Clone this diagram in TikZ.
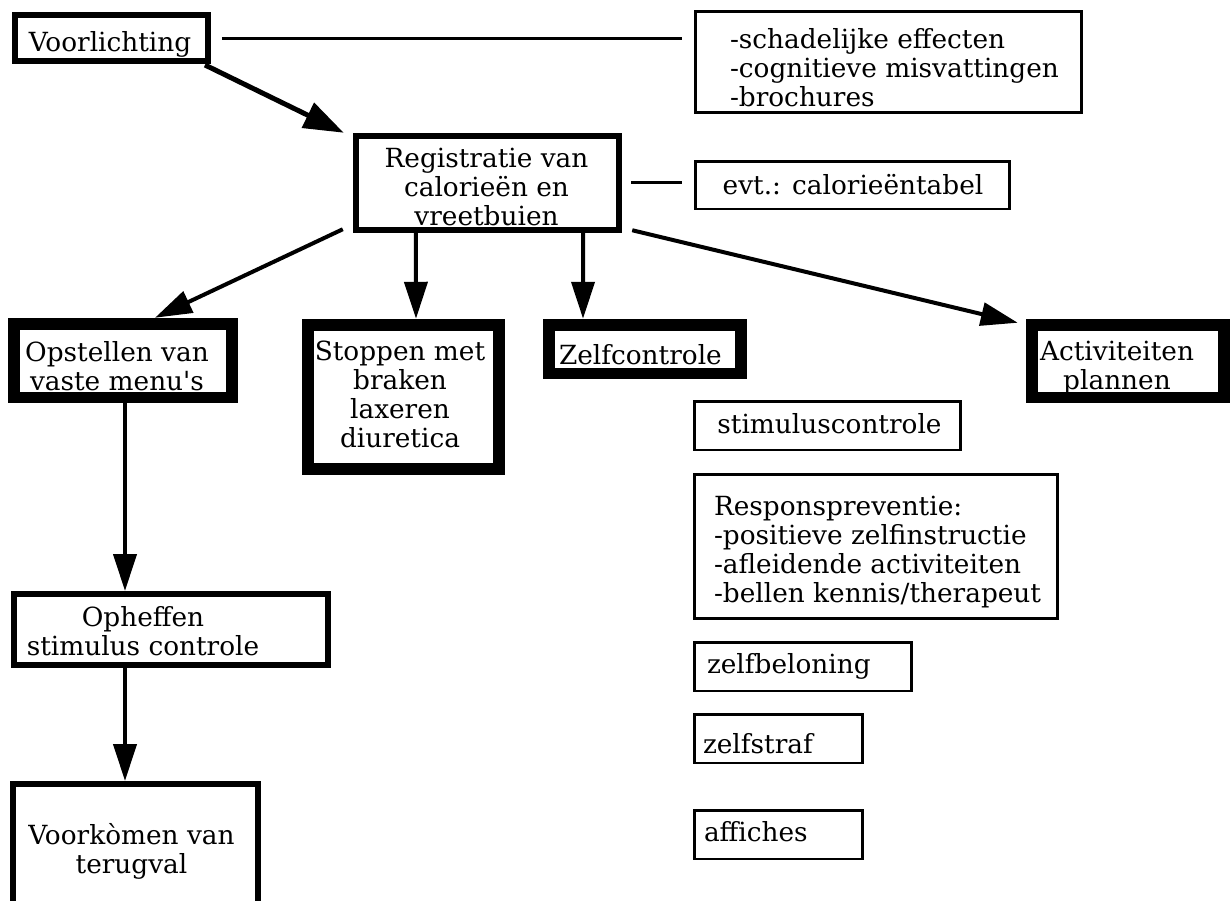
\documentclass[tikz,border=0pt]{standalone}
\usepackage{fontspec}
\setmainfont{DejaVu Serif}[Ligatures=TeXOff]
\usetikzlibrary{arrows.meta,calc}
\newcommand\dfont{\fontsize{15}{16.5}\selectfont}
\begin{document}
\begin{tikzpicture}[x=0.02cm,y=-0.02cm,
  box/.style={draw, inner sep=0pt, outer sep=0pt},
  thinbox/.style={box, line width=0.05cm, minimum height=0.97cm},
  medbox/.style={box, line width=0.12cm},
  heavybox/.style={box, line width=0.23cm},
  txt/.style={inner sep=0pt, outer sep=0pt, font=\dfont},
  arr/.style={line width=0.08cm, -{Triangle[length=0.74cm,width=0.46cm]}},
  bigarr/.style={line width=0.1cm, -{Triangle[length=0.8cm,width=0.54cm]}},
  link/.style={line width=0.06cm}]
\useasboundingbox (0,0) rectangle (1231,900);
\fill[white] (0,0) rectangle (1231,900);

% boxes
\node[medbox, minimum width=3.86cm, minimum height=0.92cm] (vor) at (111.5,38) {};
\node[box, line width=0.05cm, minimum width=7.73cm, minimum height=2.03cm] (sch) at (888.5,62) {};
\node[box, line width=0.11cm, minimum width=5.27cm, minimum height=1.89cm] (reg) at (487.5,183) {};
\node[box, line width=0.05cm, minimum width=6.29cm, minimum height=0.95cm] (evt) at (852.5,185) {};
\node[heavybox, minimum width=4.37cm, minimum height=1.47cm] (ops) at (123,360.5) {};
\node[heavybox, minimum width=3.83cm, minimum height=2.89cm] (stp) at (403.5,397) {};
\node[heavybox, minimum width=3.85cm, minimum height=0.97cm] (zel) at (645,349) {};
\node[heavybox, minimum width=3.85cm, minimum height=1.45cm] (act) at (1128,361) {};
\node[thinbox, minimum width=5.33cm] (stim) at (827.5,425.5) {};
\node[box, line width=0.05cm, minimum width=7.27cm, minimum height=2.89cm] (resp) at (876,546.5) {};
\node[thinbox, minimum width=4.35cm] (zbel) at (803,666.5) {};
\node[thinbox, minimum width=3.37cm] (zstr) at (778.5,738.5) {};
\node[thinbox, minimum width=3.37cm] (aff) at (778.5,834.5) {};
\node[medbox, minimum width=6.28cm, minimum height=1.42cm] (oph) at (171,629.5) {};
\node[medbox, minimum width=4.9cm, minimum height=2.52cm] (vk) at (135.5,847) {};

% texts
\node[txt, align=center, anchor=north] (vor-t) at (110,31) {Voorlichting};
\node[txt, align=left, anchor=north west] (sch-t) at (730,28) {-schadelijke effecten\\-cognitieve misvattingen\\-brochures};
\node[txt, align=center, anchor=north] (reg-t) at (486.5,148) {Registratie van\\calorieën en\\vreetbuien};
\node[txt, align=center, anchor=north] (evt-t) at (853,174) {evt.: calorieëntabel};
\node[txt, align=center, anchor=north] (ops-t) at (117,341) {Opstellen van\\vaste menu's};
\node[txt, align=center, anchor=north] (stp-t) at (400,341) {Stoppen met\\braken\\laxeren\\diuretica};
\node[txt, align=left, anchor=north west] (zel-t) at (559,344) {Zelfcontrole};
\node[txt, align=center, anchor=north] (act-t) at (1117,341) {Activiteiten\\plannen};
\node[txt, align=center, anchor=north] (stim-t) at (829.5,413) {stimuluscontrole};
\node[txt, align=left, anchor=north west] (resp-t) at (714,496) {Responspreventie:\\-positieve zelfinstructie\\-afleidende activiteiten\\-bellen kennis/therapeut};
\node[txt, align=left, anchor=north west] (zbel-t) at (707,653) {zelfbeloning};
\node[txt, align=left, anchor=north west] (zstr-t) at (703,733) {zelfstraf};
\node[txt, align=left, anchor=north west] (aff-t) at (704,821) {affiches};
\node[txt, align=center, anchor=north] (oph-t) at (143,606) {Opheffen\\stimulus controle};
\node[txt, align=center, anchor=north] (vk-t) at (131.5,823) {Voorkòmen van\\terugval};

% plain links
\draw[link] ($(vor.east)+(14,0)$) -- ($(sch.west |- vor.east)+(-13,0)$);
\draw[link] ($(reg.east)+(12,-1)$) -- ($(evt.west)+(-13,-3)$);

% arrows
\draw[bigarr] ($(vor.south east)+(-3,4)$) -- ($(reg.north west)+(-12,-3)$);
\draw[arr] ($(reg.south west)+(-13,-1)$) -- ($(ops.north)+(32,-6)$);
\draw[arr] ($(reg.south west)+(60,0)$) -- ($(stp.north west)+(108.25,-6)$);
\draw[arr] ($(reg.south west)+(227.25,0)$) -- ($(zel.north west)+(34.25,-6)$);
\draw[arr] ($(reg.south east)+(13,0)$) -- ($(act.north west)+(-14,-2)$);
\draw[arr] ($(ops.south)+(2,6)$) -- ($(oph.north)+(-46,-3)$);
\draw[arr] ($(oph.south)+(-46,3)$) -- ($(vk.north)+(-10.5,-3)$);
\end{tikzpicture}
\end{document}
